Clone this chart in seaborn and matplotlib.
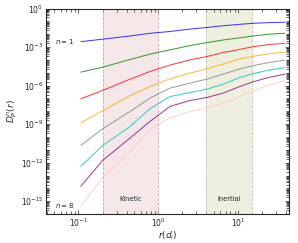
import numpy as np
import pandas as pd
import matplotlib
matplotlib.use("Agg")
import matplotlib.pyplot as plt
import matplotlib.ticker as mticker
import seaborn as sns

# separation r (in d_i), log10 positions
log_r = [-0.97, -0.70, -0.354, -0.104, 0.146, 0.396, 0.605, 0.813, 1.021, 1.19, 1.381, 1.584]

# log10 of D_P^n(r) for n = 1..8
n1 = [-2.58, -2.39, -2.14, -1.93, -1.79, -1.60, -1.48, -1.34, -1.23, -1.15, -1.10, -1.07]
n2 = [-4.95, -4.57, -3.97, -3.55, -3.22, -2.89, -2.66, -2.45, -2.28, -2.14, -2.00, -1.93]
n3 = [-7.03, -6.38, -5.50, -4.90, -4.40, -4.00, -3.74, -3.43, -3.18, -2.97, -2.81, -2.70]
n4 = [-8.91, -7.96, -6.79, -6.07, -5.47, -5.03, -4.70, -4.31, -3.92, -3.72, -3.53, -3.40]
n5 = [-10.65, -9.38, -8.01, -6.97, -6.20, -5.81, -5.50, -5.11, -4.70, -4.44, -4.21, -4.02]
n6 = [-12.28, -10.68, -9.18, -7.80, -6.85, -6.54, -6.28, -5.89, -5.37, -5.06, -4.80, -4.60]
n7 = [-13.83, -11.84, -10.08, -8.79, -7.62, -7.16, -6.93, -6.58, -6.07, -5.70, -5.37, -5.11]
n8 = [-15.39, -13.18, -11.12, -9.43, -8.52, -8.01, -7.75, -7.36, -6.85, -6.40, -5.96, -5.63]

orders = [1, 2, 3, 4, 5, 6, 7, 8]
colors = ["blue", "green", "red", "orange", "gray", "c", "purple", "pink"]

kinetic_range = [0.2, 1.0]
inertial_range = [4.0, 15.0]

y_major_exponents = [-15, -12, -9, -6, -3, 0]

series = [n1, n2, n3, n4, n5, n6, n7, n8]
rows = []
for n, vals in zip(orders, series):
    for lr, lv in zip(log_r, vals):
        rows.append({"r": 10 ** lr, "D": 10 ** lv, "n": n})
df = pd.DataFrame(rows)

sns.set_style("ticks")
plt.rcParams["font.family"] = ["DejaVu Sans"]
plt.rcParams["mathtext.fontset"] = "dejavusans"

fig = plt.figure(figsize=(2.98, 2.43), dpi=100)
ax = fig.add_axes([0.155, 0.119, 0.815, 0.846])

ax.axvspan(*kinetic_range, color="brown", alpha=0.11, lw=0)
ax.axvspan(*inertial_range, color="olive", alpha=0.12, lw=0)
for v in kinetic_range:
    ax.axvline(v, color="#c9a9a9", ls="--", lw=0.6)
for v in inertial_range:
    ax.axvline(v, color="#c4c4ae", ls="--", lw=0.6)

sns.lineplot(data=df, x="r", y="D", hue="n", palette=colors, ax=ax,
             legend=False, linewidth=0.75, alpha=0.75)

ax.set_xscale("log")
ax.set_yscale("log")
ax.set_xlim(0.0394, 43.4)
ax.set_ylim(1e-16, 1)

ax.yaxis.set_major_locator(mticker.FixedLocator([10.0 ** e for e in y_major_exponents]))
ax.yaxis.set_major_formatter(mticker.LogFormatterSciNotation())
ax.yaxis.set_minor_locator(mticker.LogLocator(base=10, subs=np.arange(1, 10), numticks=200))
ax.yaxis.set_minor_formatter(mticker.NullFormatter())

ax.text(0.088, 10 ** -2.6, "$n = 1$", fontsize=5, ha="right", va="center")
ax.text(0.088, 10 ** -15.33, "$n = 8$", fontsize=5, ha="right", va="center")
ax.text(0.45, 10 ** -14.8, "Kinetic", fontsize=4.8, ha="center", va="center")
ax.text(7.6, 10 ** -14.8, "Inertial", fontsize=4.8, ha="center", va="center")

ax.set_xlabel("$r(d_i)$", fontsize=6.5, labelpad=0)
ax.set_ylabel("$D_P^n(r)$", fontsize=6.5, labelpad=1)

ax.tick_params(which="both", direction="in", top=True, right=True,
               labelsize=5.5, width=0.5, pad=2)
ax.tick_params(which="major", length=3)
ax.tick_params(which="minor", length=2, width=0.5)
for s in ax.spines.values():
    s.set_linewidth(0.8)

fig.savefig("out.png", dpi=100)
